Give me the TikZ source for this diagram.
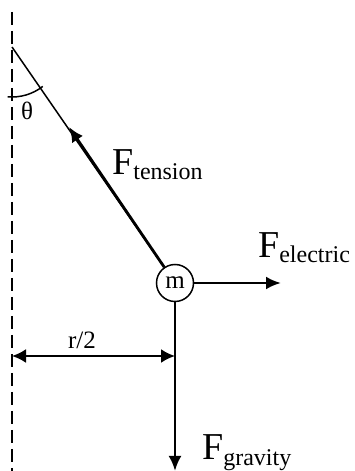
\documentclass[tikz,border=0pt]{standalone}
\usepackage{fontspec}
\setmainfont{Liberation Serif}
\usetikzlibrary{arrows.meta}
\newcommand\fsub[1]{{\fontsize{24}{24}\selectfont\raisebox{-5pt}{#1}}}
\tikzset{
  force/.style={line width=2.8pt,-{Latex[length=15pt,width=13pt]}},
  dimline/.style={line width=2.2pt,{Latex[length=14pt,width=14pt]}-{Latex[length=14pt,width=14pt]}},
  lab/.style={inner sep=0pt,font=\fontsize{38}{38}\selectfont},
  small/.style={inner sep=0pt,font=\fontsize{25}{25}\selectfont},
}
\begin{document}
\begin{tikzpicture}[x=1pt,y=1pt]
\useasboundingbox (0,0) rectangle (354,471);
% reference line
\draw[line width=2pt,dash pattern=on 13pt off 6pt] (12,459) -- (12,0);
\coordinate (pivot) at (12,424);
\node[circle,draw,line width=1.5pt,minimum size=37pt,inner sep=0pt,font=\fontsize{25}{25}\selectfont] (m) at (175,188) {m};
\draw[line width=1.5pt] (pivot) -- (m);
\coordinate (ttip) at (69,344);
\coordinate (etip) at (281,188);
\coordinate (gtip) at (175,0);
\draw[force] (m) -- (ttip);
\draw[force] (m) -- (etip);
\draw[force] (m) -- (gtip);
% angle
\draw[line width=1.5pt] (pivot) ++(-95:50) arc[start angle=-95,end angle=-52,radius=50];
\node[small] (theta) at (27,360) {θ};
% distance
\coordinate (d1) at (12,115);
\coordinate (d2) at (175,115);
\draw[dimline] (d1) -- (d2);
\node[small,anchor=base] (rl) at (82,122) {r/2};
% labels
\node[lab,anchor=base west] (ft) at (112,296) {F\fsub{tension}};
\node[lab,anchor=base west] (fe) at (258,213) {F\fsub{electric}};
\node[lab,anchor=base west] (fg) at (202,11) {F\fsub{gravity}};
\end{tikzpicture}
\end{document}
